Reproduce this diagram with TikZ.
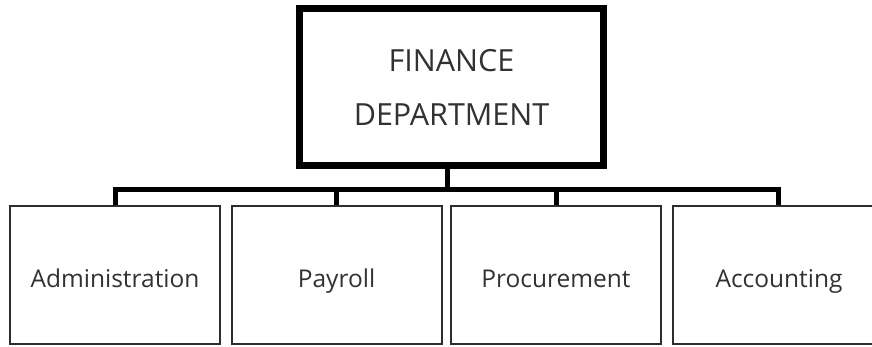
\documentclass[tikz,border=0pt]{standalone}
\usepackage{fontspec}
\setmainfont{Open Sans}
\usetikzlibrary{positioning}
\definecolor{inkgray}{RGB}{50,50,50}
\definecolor{edgegray}{RGB}{45,45,45}

\tikzset{
  headbox/.style={rectangle, draw=black, line width=7pt, fill=white,
    minimum width=304pt, minimum height=157pt, align=center,
    text=inkgray, font=\fontsize{30.5}{54}\selectfont},
  unitbox/.style={rectangle, draw=edgegray, line width=2pt, fill=white,
    minimum width=210pt, minimum height=138pt, text=inkgray,
    font=\fontsize{24.5}{29}\selectfont, text height=25pt, text depth=0pt},
  busline/.style={draw=black, line width=5pt}
}

\begin{document}
\begin{tikzpicture}[x=1pt, y=-1pt]
\useasboundingbox (0,0) rectangle (872,347);

% Head of department
\node[headbox] (fin) at (451.5,87) {FINANCE\\DEPARTMENT};

% Units
\node[unitbox] (admin) at (115,275) {Administration};
\node[unitbox] (pay) at (336.5,275) {Payroll};
\node[unitbox] (proc) at (556,275) {Procurement};
% last box runs off the right edge
\node[unitbox, minimum width=230pt] (acct) at (788,275) {\hspace*{-18pt}Accounting};

% Connectors
\coordinate (bus) at (447,190);
\coordinate (acctstub) at ([xshift=-10pt]acct.north);
\draw[busline] (fin.south -| bus) -- (bus);
\draw[busline] (admin.north) -- (admin.north |- bus) -- (acctstub |- bus) -- (acctstub);
\draw[busline] (pay.north) -- (pay.north |- bus);
\draw[busline] (proc.north) -- (proc.north |- bus);
\end{tikzpicture}
\end{document}
